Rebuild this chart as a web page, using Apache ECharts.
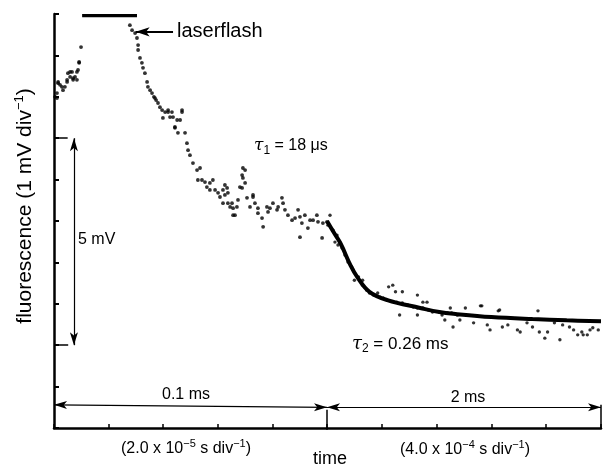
<!DOCTYPE html>
<html>
<head>
<meta charset="utf-8">
<script src="https://cdn.jsdelivr.net/npm/echarts@6/dist/echarts.min.js"></script>
<style>html,body{margin:0;padding:0;background:#fff}#c{width:607px;height:466px}</style>
</head>
<body>
<div id="c"></div>
<script>
// Fast section: time in microseconds (0 - 100 us = 0.1 ms), fluorescence in mV
const fastTime = [0.4,1.1,1.1,1.5,1.5,2.2,2.9,3.3,4.0,4.8,4.8,5.1,5.9,5.9,6.6,7.0,7.0,7.7,8.4,8.4,8.8,9.2,9.2,9.9,
  27.8,28.6,29.7,30.4,30.8,30.8,31.5,32.2,32.6,33.3,34.1,34.4,35.2,35.9,36.6,37.0,37.4,38.1,38.8,39.6,40.7,41.8,41.8,42.5,39.9,43.2,43.6,45.1,46.9,46.9,46.2,44.3,44.3,45.4,48.0,48.7,49.1,49.8,50.9,52.4,52.7,53.5,54.2,55.3,56.0,57.1,58.2,57.1,59.0,60.1,60.8,61.9,63.4,62.6,63.7,64.5,65.6,66.3,67.0,67.4,68.9,69.2,70.0,70.0,70.7,71.8,72.9,73.6,74.7,
  61.9,62.6,63.7,65.2,65.6,68.1,68.9,69.2,72.9,74.7,76.2,76.6,78.0,78.4,79.1,80.2,81.7,82.1,83.5,83.9,84.6,85.7,87.2,88.3,89.4,90.1,90.8,90.1,91.9,93.0,93.8,94.9,96.3,96.7,98.2,98.5,100];
const fastFluor = [8.00,7.97,8.09,8.36,8.33,8.29,8.24,8.16,8.24,8.36,8.41,8.57,8.48,8.60,8.60,8.41,8.45,8.48,8.41,8.60,8.65,8.82,8.84,9.20,
  9.73,9.61,9.54,9.42,9.25,9.13,8.94,8.82,8.70,8.57,8.36,8.24,8.16,8.09,8.00,7.97,7.92,7.85,7.75,7.68,7.63,7.68,7.63,7.51,7.49,7.63,7.51,7.44,7.68,7.63,7.44,7.27,7.25,7.13,7.13,6.88,6.71,6.59,6.40,6.23,5.99,6.28,5.99,5.94,5.82,5.92,5.99,5.75,5.75,5.68,5.58,5.43,5.80,5.63,5.43,5.34,5.31,5.14,5.34,5.51,5.80,6.04,6.23,5.92,5.56,5.34,5.58,5.43,5.31,
  5.75,5.87,5.68,5.43,5.14,5.82,6.11,6.28,5.63,5.19,5.07,4.86,5.34,5.22,5.31,5.43,5.27,5.34,5.56,5.43,5.27,5.14,5.02,5.07,5.27,5.10,4.95,4.61,5.14,4.83,5.02,5.02,5.14,4.98,4.59,4.95,4.98];
// Laser flash saturation (us, mV)
const flashTime = [10.3, 30.4];
const flashFluor = [9.96, 9.96];
// Slow section: time in ms (0 - 2 ms), fluorescence in mV
const slowTime = [0.007,0.022,0.044,0.058,0.073,0.080,0.095,0.11,0.131,0.153,0.18,0.19,0.20,0.23,0.26,0.26,0.29,0.31,0.34,0.37,0.39,0.41,0.44,0.45,0.48,0.50,0.55,0.51,0.55,0.59,0.63,0.66,0.70,0.73,0.74,0.77,0.53,0.66,0.82,0.88,0.91,0.95,0.66,0.70,0.90,1.01,1.12,1.25,1.54,0.92,0.97,1.07,1.17,1.19,1.28,1.32,1.39,1.41,1.46,1.50,1.55,1.59,1.61,1.70,1.66,1.72,1.77,1.80,1.83,1.86,1.90,1.92,1.94,1.98,0.86,0.84,1.87,1.26,1.13];
const slowFluor = [4.90,5.14,4.78,4.49,4.66,4.42,4.47,4.35,4.18,4.01,3.89,3.82,3.57,3.65,3.57,3.45,3.33,3.26,3.21,3.26,3.16,3.14,3.09,3.41,3.45,3.29,3.29,3.04,3.02,2.97,2.92,2.90,2.90,3.04,2.85,2.80,2.73,2.73,2.80,2.78,2.78,2.73,3.21,3.04,2.90,2.90,2.95,2.83,2.83,2.44,2.61,2.54,2.49,2.37,2.44,2.49,2.37,2.32,2.54,2.44,2.32,2.17,2.32,2.13,2.54,2.49,2.44,2.37,2.25,2.32,2.25,2.37,2.42,2.37,2.61,2.73,2.25,2.85,2.95];
// Fitted decay (tau2 = 0.26 ms)
const fitTime = [0,0.05,0.1,0.17,0.22,0.31,0.44,0.68,0.82,0.95,1.2,1.5,1.75,2.0];
const fitFluor = [5.0,4.72,4.45,3.94,3.65,3.29,3.09,2.90,2.80,2.75,2.68,2.63,2.60,2.58];

const zip = (a, b) => a.map((v, i) => [v, b[i]]);
const FONT = "'Liberation Sans', Arial, Helvetica, sans-serif";
const chart = echarts.init(document.getElementById('c'), null, {renderer: 'canvas'});

const axisLine = {show: true, lineStyle: {color: '#000', width: 2.5}};
const mlBase = {silent: true, animation: false, label: {show: false}};

const option = {
  animation: false,
  backgroundColor: '#fff',
  grid: [
    {left: 54, top: 14, width: 273, height: 414},
    {left: 327, top: 14, width: 274, height: 414}
  ],
  xAxis: [
    {gridIndex: 0, type: 'value', min: 0, max: 100, interval: 20, axisLine: axisLine,
     axisTick: {inside: true, length: 4, lineStyle: {color: '#000', width: 1.5}}, axisLabel: {show: false}, splitLine: {show: false}},
    {gridIndex: 1, type: 'value', min: 0, max: 2, interval: 0.4, axisLine: axisLine,
     axisTick: {inside: true, length: 4, lineStyle: {color: '#000', width: 1.5}}, axisLabel: {show: false}, splitLine: {show: false}}
  ],
  yAxis: [
    {gridIndex: 0, type: 'value', min: 0, max: 10, interval: 1, axisLine: axisLine,
     axisTick: {inside: true, length: 5, lineStyle: {color: '#000', width: 2}}, axisLabel: {show: false}, splitLine: {show: false}},
    {gridIndex: 1, type: 'value', min: 0, max: 10, interval: 1, show: false}
  ],
  series: [
    {type: 'scatter', xAxisIndex: 0, yAxisIndex: 0, data: zip(fastTime, fastFluor), symbolSize: 3.8,
     itemStyle: {color: '#000'},
     markLine: Object.assign({}, mlBase, {
       symbol: ['arrow', 'arrow'], symbolSize: [6, 13],
       lineStyle: {color: '#000', width: 1.2, type: 'solid'},
       data: [
         [{coord: [7.3, 7]}, {coord: [7.3, 2]}],
         [{coord: [0, 0.56]}, {coord: [100, 0.5]}]
       ]
     })},
    {type: 'line', xAxisIndex: 0, yAxisIndex: 0, data: zip(flashTime, flashFluor), symbol: 'none',
     lineStyle: {color: '#000', width: 3.2},
     markLine: Object.assign({}, mlBase, {
       symbol: ['none', 'arrow'], symbolSize: [7, 14],
       lineStyle: {color: '#000', width: 1.8, type: 'solid'},
       data: [[{coord: [43.6, 9.57]}, {coord: [29.9, 9.57]}]]
     })},
    {type: 'line', xAxisIndex: 0, yAxisIndex: 0, data: [], symbol: 'none',
     markLine: Object.assign({}, mlBase, {
       symbol: ['none', 'none'],
       lineStyle: {color: '#000', width: 1.5, type: 'solid'},
       data: [
         [{coord: [0, 7]}, {coord: [5, 7]}],
         [{coord: [0, 2]}, {coord: [5.2, 2]}],
         [{coord: [100, 0]}, {coord: [100, 0.44]}]
       ]
     })},
    {type: 'scatter', xAxisIndex: 1, yAxisIndex: 1, data: zip(slowTime, slowFluor), symbolSize: 3.4,
     itemStyle: {color: '#000'},
     markLine: Object.assign({}, mlBase, {
       symbol: ['arrow', 'arrow'], symbolSize: [6, 13],
       lineStyle: {color: '#000', width: 1.2, type: 'solid'},
       data: [[{coord: [0, 0.5]}, {coord: [2, 0.5]}]]
     })},
    {type: 'line', xAxisIndex: 1, yAxisIndex: 1, data: zip(fitTime, fitFluor), symbol: 'none', smooth: 0.4,
     lineStyle: {color: '#000', width: 4},
     markLine: Object.assign({}, mlBase, {
       symbol: ['none', 'none'],
       lineStyle: {color: '#000', width: 1.5, type: 'solid'},
       data: [[{coord: [2, 0]}, {coord: [2, 0.56]}]]
     })}
  ],
  graphic: [
    {type: 'text', x: 25, y: 206, rotation: Math.PI / 2,
     style: {text: 'fluorescence (1 mV div{sup|−1})', font: '21px ' + FONT, fill: '#000', align: 'center', verticalAlign: 'middle',
       rich: {sup: {fontSize: 13, fontFamily: FONT, fill: '#000', padding: [0, 0, 12, 0]}}}},
    {type: 'text', x: 177, y: 31,
     style: {text: 'laserflash', font: '20px ' + FONT, fill: '#000', align: 'left', verticalAlign: 'middle'}},
    {type: 'text', x: 254, y: 146,
     style: {text: '{t|τ}{sub|1} = 18 μs', font: '16px ' + FONT, fill: '#000', align: 'left', verticalAlign: 'middle',
       rich: {t: {fontSize: 17, fontStyle: 'italic', fontFamily: 'DejaVu Serif', fill: '#000'},
              sub: {fontSize: 12, fontFamily: FONT, fill: '#000', padding: [10, 0, 0, 0]}}}},
    {type: 'text', x: 352, y: 344,
     style: {text: '{t|τ}{sub|2} = 0.26 ms', font: '17px ' + FONT, fill: '#000', align: 'left', verticalAlign: 'middle',
       rich: {t: {fontSize: 18, fontStyle: 'italic', fontFamily: 'DejaVu Serif', fill: '#000'},
              sub: {fontSize: 12, fontFamily: FONT, fill: '#000', padding: [10, 0, 0, 0]}}}},
    {type: 'text', x: 78, y: 240,
     style: {text: '5 mV', font: '16px ' + FONT, fill: '#000', align: 'left', verticalAlign: 'middle'}},
    {type: 'text', x: 186, y: 395,
     style: {text: '0.1 ms', font: '16px ' + FONT, fill: '#000', align: 'center', verticalAlign: 'middle'}},
    {type: 'text', x: 468, y: 398,
     style: {text: '2 ms', font: '16px ' + FONT, fill: '#000', align: 'center', verticalAlign: 'middle'}},
    {type: 'text', x: 186, y: 449,
     style: {text: '(2.0 x 10{sup|−5} s div{sup|−1})', font: '16px ' + FONT, fill: '#000', align: 'center', verticalAlign: 'middle',
       rich: {sup: {fontSize: 11, fontFamily: FONT, fill: '#000', padding: [0, 0, 10, 0]}}}},
    {type: 'text', x: 465, y: 450,
     style: {text: '(4.0 x 10{sup|−4} s div{sup|−1})', font: '16px ' + FONT, fill: '#000', align: 'center', verticalAlign: 'middle',
       rich: {sup: {fontSize: 11, fontFamily: FONT, fill: '#000', padding: [0, 0, 10, 0]}}}},
    {type: 'text', x: 330, y: 459,
     style: {text: 'time', font: '18px ' + FONT, fill: '#000', align: 'center', verticalAlign: 'middle'}}
  ]
};
chart.setOption(option);
</script>
</body>
</html>
